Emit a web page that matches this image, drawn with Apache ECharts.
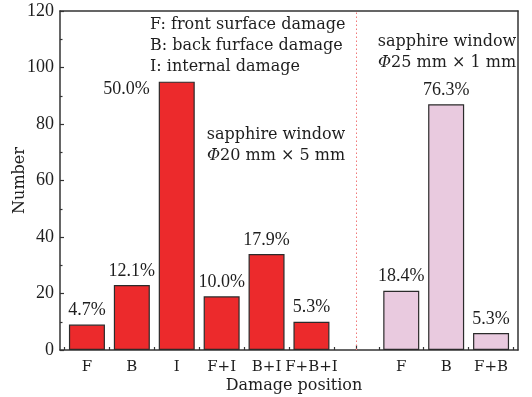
<!DOCTYPE html>
<html>
<head>
<meta charset="utf-8">
<script src="https://cdn.jsdelivr.net/npm/echarts@6/dist/echarts.min.js"></script>
<style>
  html, body { margin: 0; padding: 0; background: #fff; }
  #chart { width: 532px; height: 397px; }
</style>
</head>
<body>
<div id="chart"></div>
<script>
// Damage position categories for each sample window
const thickCategories = ['F', 'B', 'I', 'F+I', 'B+I', 'F+B+I'];
const thinCategories = ['F', 'B', 'F+B'];

// Counts of damaged samples per damage position
const thickCounts = [9, 23, 95, 19, 34, 10];
const thinCounts = [21, 87, 6];

// Slot positions along the x axis (slot 7 is the divider gap)
const thickSlots = [1, 2, 3, 4, 5, 6];
const thinSlots = [8, 9, 10];
const dividerSlot = 7;

const yTicks = [0, 20, 40, 60, 80, 100, 120];

const legendLines = ['F: front surface damage', 'B: back furface damage', 'I: internal damage'];

const TEXT = '#1e1e1e';
const AXIS = '#333';
const SERIF = '"DejaVu Serif", serif';
const NUM = '"Liberation Serif", serif';

function sumOf(a) { return a.reduce((s, v) => s + v, 0); }
const thickTotal = sumOf(thickCounts);
const thinTotal = sumOf(thinCounts);
const pct = (v, total) => (v / total * 100).toFixed(1) + '%';

const slotLabel = {};
thickSlots.forEach((s, i) => { slotLabel[s] = thickCategories[i]; });
thinSlots.forEach((s, i) => { slotLabel[s] = thinCategories[i]; });

const labelSlots = thickSlots.concat(thinSlots);
const majorTicks = [];
for (let v = 1; v <= 10; v++) majorTicks.push(v);
const minorTicks = [];
for (let v = 0.5; v <= 10.5; v += 1) minorTicks.push(v);

const chart = echarts.init(document.getElementById('chart'), null, { renderer: 'canvas' });

const xBase = { type: 'value', min: 0.4, max: 10.6, splitLine: { show: false } };

const thickData = thickCounts.map((v, i) => {
  const item = { value: [thickSlots[i], v] };
  if (thickCategories[i] === 'I') {
    item.label = { position: [-9, 8], align: 'right', verticalAlign: 'middle' };
  }
  return item;
});
const thinData = thinCounts.map((v, i) => ({ value: [thinSlots[i], v] }));

const barLabel = (total) => ({
  show: true,
  position: 'top',
  distance: 5,
  fontFamily: NUM,
  fontSize: 18,
  color: TEXT,
  formatter: p => pct(p.value[1], total)
});

chart.setOption({
  animation: false,
  backgroundColor: '#fff',
  grid: { left: 60, right: 14, top: 11, bottom: 47, outerBoundsMode: 'none', containLabel: false },
  xAxis: [
    Object.assign({}, xBase, {
      position: 'bottom',
      axisLine: { show: true, lineStyle: { color: AXIS, width: 1.5 } },
      axisTick: { show: true, inside: true, length: 5, customValues: majorTicks, lineStyle: { color: AXIS, width: 1.2 } },
      axisLabel: {
        customValues: labelSlots,
        formatter: v => slotLabel[v] || '',
        fontFamily: SERIF, fontSize: 15, color: TEXT, margin: 10
      },
      name: 'Damage position',
      nameLocation: 'middle',
      nameGap: 28,
      nameMoveOverlap: false,
      nameTextStyle: { fontFamily: SERIF, fontSize: 16, color: TEXT, padding: [0, 0, 0, 10] }
    }),
    Object.assign({}, xBase, {
      position: 'bottom',
      axisLine: { show: false },
      axisTick: { show: true, inside: true, length: 3, customValues: minorTicks, lineStyle: { color: AXIS, width: 1.2 } },
      axisLabel: { show: false }
    }),
    Object.assign({}, xBase, {
      position: 'top',
      axisLine: { show: true, lineStyle: { color: AXIS, width: 1.5 } },
      axisTick: { show: false },
      axisLabel: { show: false }
    })
  ],
  yAxis: [
    {
      type: 'value', min: 0, max: 120, interval: 20,
      splitLine: { show: false },
      axisLine: { show: true, lineStyle: { color: AXIS, width: 1.5 } },
      axisTick: { show: true, inside: true, length: 4, lineStyle: { color: AXIS, width: 1.2 } },
      minorTick: { show: true, splitNumber: 2, length: 2.5, lineStyle: { color: AXIS, width: 1.2 } },
      axisLabel: {
        customValues: yTicks,
        fontFamily: NUM, fontSize: 18, color: TEXT, margin: 6
      },
      name: 'Number',
      nameLocation: 'middle',
      nameGap: 32,
      nameRotate: 90,
      nameMoveOverlap: false,
      nameTextStyle: { fontFamily: SERIF, fontSize: 16, color: TEXT }
    },
    {
      type: 'value', min: 0, max: 120, position: 'right',
      splitLine: { show: false },
      axisLine: { show: true, lineStyle: { color: AXIS, width: 1.5 } },
      axisTick: { show: false },
      axisLabel: { show: false }
    }
  ],
  series: [
    {
      type: 'bar',
      xAxisIndex: 0,
      yAxisIndex: 0,
      barWidth: 36,
      data: thickData,
      itemStyle: { color: '#ec2a2c', borderColor: '#2b2b2b', borderWidth: 1.2 },
      label: barLabel(thickTotal),
      markLine: {
        silent: true,
        symbol: 'none',
        label: { show: false },
        emphasis: { disabled: true },
        lineStyle: { color: '#f07878', type: [1.5, 2.5], width: 1, opacity: 1 },
        data: [{ xAxis: dividerSlot }]
      }
    },
    {
      type: 'bar',
      xAxisIndex: 0,
      yAxisIndex: 0,
      barWidth: 36,
      barGap: '-100%',
      data: thinData,
      itemStyle: { color: '#e9cadf', borderColor: '#2b2b2b', borderWidth: 1.2 },
      label: barLabel(thinTotal)
    }
  ],
  graphic: [
    {
      type: 'text', left: 150, top: 14,
      style: {
        text: legendLines.join('\n'),
        font: '16px ' + SERIF, fill: TEXT, lineHeight: 21
      }
    },
    {
      type: 'text', x: 276, y: 145,
      style: {
        text: 'sapphire window\n{i|Φ}20 mm × 5 mm',
        align: 'center', verticalAlign: 'middle',
        font: '16px ' + SERIF, fill: TEXT, lineHeight: 21,
        rich: { i: { fontStyle: 'italic', fontFamily: SERIF, fontSize: 16 } }
      }
    },
    {
      type: 'text', x: 447, y: 52,
      style: {
        text: 'sapphire window\n{i|Φ}25 mm × 1 mm',
        align: 'center', verticalAlign: 'middle',
        font: '16px ' + SERIF, fill: TEXT, lineHeight: 21,
        rich: { i: { fontStyle: 'italic', fontFamily: SERIF, fontSize: 16 } }
      }
    }
  ]
});
</script>
</body>
</html>
